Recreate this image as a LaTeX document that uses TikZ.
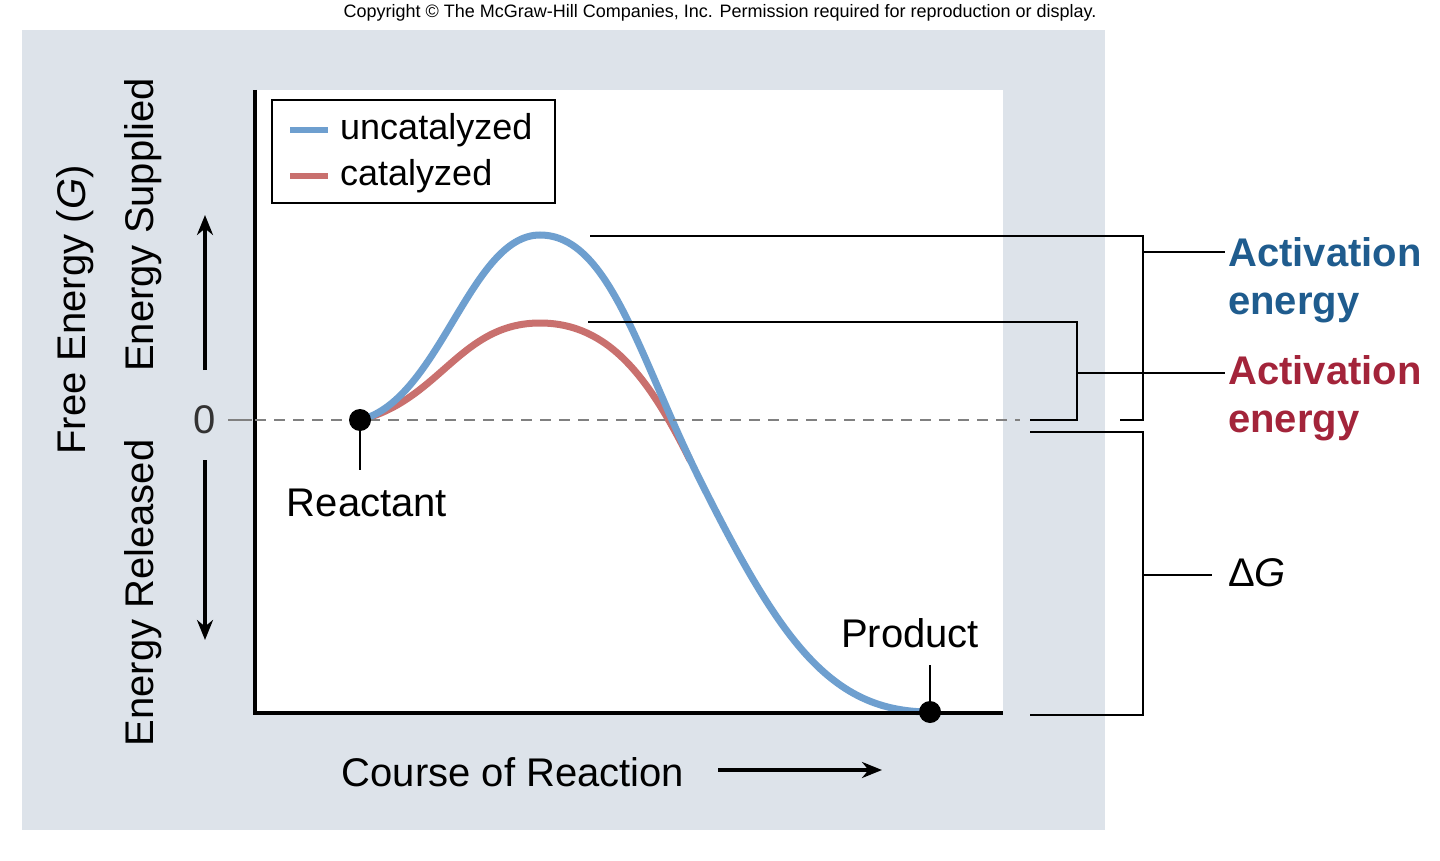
\documentclass[tikz,border=0pt]{standalone}
\usepackage{fontspec}
\setmainfont{Liberation Sans}
\usetikzlibrary{arrows.meta}
\definecolor{panel}{HTML}{DDE3EA}
\definecolor{ublue}{HTML}{6E9FCF}
\definecolor{cred}{HTML}{C9706E}
\definecolor{tblue}{HTML}{1F5C8E}
\definecolor{tred}{HTML}{A3243A}
\tikzset{lbl/.style={font=\fontsize{40}{46}\selectfont,inner sep=0pt},
 brk/.style={line width=2.2pt},
 curve/.style={line width=7pt,line cap=round}}
\begin{document}
\begin{tikzpicture}[x=1pt,y=-1pt]
\useasboundingbox (0,0) rectangle (1440,861);
\fill[panel] (22,30) rectangle (1105,830);
\fill[white] (255,90) rectangle (1003,713);
\node[font=\fontsize{18}{20}\selectfont] (copy) at (720,13) {Copyright © The McGraw-Hill Companies, Inc. Permission required for reproduction or display.};
% curves
\draw[curve,cred] (360,420) .. controls (440,400) and (460,323) .. (540,323) .. controls (610,323) and (650,380) .. (690,460);
\draw[curve,ublue] (360,420) .. controls (440,400) and (470,235) .. (540,235) .. controls (610,235) and (640,360) .. (700,480) .. controls (780,640) and (830,712) .. (930,712);
% axes
\draw[line width=3.5pt] (255,90) -- (255,713) -- (1003,713);
\draw[line width=2.2pt,gray,dash pattern=on 11pt off 8pt] (255,420) -- (1020,420);
\draw[line width=2.2pt,gray] (228,420) -- (252,420);
\node[lbl,text=black!80] (zero) at (205,420) {0};
% points
\coordinate (r) at (360,420); \coordinate (p) at (930,712);
\fill (r) circle (11); \fill (p) circle (11);
\node[lbl] (react) at (367,503) {Reactant};
\node[lbl] (prod) at (910,633) {Product};
\draw[line width=2.2pt] (r) -- (360,470);
\draw[line width=2.2pt] (930,665) -- (p);
% legend
\draw[line width=2.2pt,fill=white] (272,100) rectangle (555,203);
\draw[line width=6pt,ublue] (290,130) -- (328,130);
\draw[line width=6pt,cred] (290,176) -- (328,176);
\node[lbl,anchor=west,font=\fontsize{36}{40}\selectfont] (lu) at (340,130) {uncatalyzed};
\node[lbl,anchor=west,font=\fontsize{36}{40}\selectfont] (lc) at (340,176) {catalyzed};
% axis labels
\node[lbl,rotate=90] (fe) at (75,310) {Free Energy (\textit{G})};
\node[lbl,rotate=90] (es) at (143,225) {Energy Supplied};
\node[lbl,rotate=90] (er) at (143,593) {Energy Released};
\draw[line width=4pt,-{Stealth[length=20pt,width=16pt]}] (205,370) -- (205,215);
\draw[line width=4pt,-{Stealth[length=20pt,width=16pt]}] (205,460) -- (205,640);
\node[lbl] (cr) at (513,772) {Course of Reaction};
\draw[line width=4pt,-{Stealth[length=20pt,width=16pt]}] (718,770) -- (882,770);
% brackets
\draw[brk] (590,236) -- (1143,236) -- (1143,420) -- (1120,420);
\draw[brk] (1143,252) -- (1225,252);
\draw[brk] (588,322) -- (1077,322) -- (1077,420) -- (1030,420);
\draw[brk] (1077,373) -- (1225,373);
\draw[brk] (1030,432) -- (1143,432) -- (1143,715) -- (1030,715);
\draw[brk] (1143,575) -- (1212,575);
\node[lbl,anchor=west,align=left,text=tblue,font=\bfseries\fontsize{40}{48}\selectfont] (ab) at (1228,280) {Activation\\energy};
\node[lbl,anchor=west,align=left,text=tred,font=\bfseries\fontsize{40}{48}\selectfont] (ar) at (1228,398) {Activation\\energy};
\node[lbl,anchor=west] (dg) at (1228,573) {Δ\textit{G}};
\end{tikzpicture}
\end{document}
